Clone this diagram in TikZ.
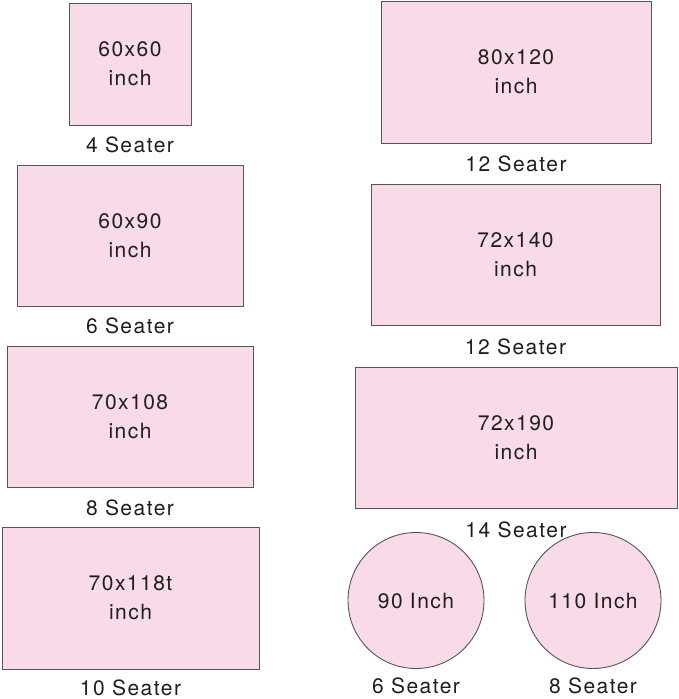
\documentclass[tikz,border=0pt]{standalone}
\usepackage{fontspec}
\setmainfont[LetterSpace=7]{TeX Gyre Heros}
\usetikzlibrary{calc}
\definecolor{tablefill}{HTML}{F9DAE8}
\definecolor{tableedge}{HTML}{555555}
\definecolor{ink}{HTML}{1E1E1E}
\begin{document}
\begin{tikzpicture}[x=1pt,y=-1pt,
  tbl/.style={draw=tableedge, fill=tablefill, line width=0.9pt, inner sep=0pt,
    text=ink, align=center, font=\fontsize{21}{29}\selectfont},
  rtab/.style={tbl, rectangle},
  ctab/.style={tbl, circle, minimum size=136pt},
  lab/.style={anchor=base, text=ink, inner sep=0pt, font=\fontsize{21}{29}\selectfont}]
\useasboundingbox (0,0) rectangle (679,699);
% left column
\node[rtab, minimum width=122pt, minimum height=122pt] (r1) at (130,64) {60x60\\inch};
\node[rtab, minimum width=226pt, minimum height=141pt] (r2) at (130,235.5) {60x90\\inch};
\node[rtab, minimum width=246pt, minimum height=141pt] (r3) at (130,416.5) {70x108\\inch};
\node[rtab, minimum width=257pt, minimum height=142pt] (r4) at (130.5,598) {70x118t\\inch};
% right column
\node[rtab, minimum width=270pt, minimum height=142pt] (r5) at (516,72) {80x120\\inch};
\node[rtab, minimum width=289pt, minimum height=141pt] (r6) at (515.5,254.5) {72x140\\inch};
\node[rtab, minimum width=322pt, minimum height=141pt] (r7) at (516,437.5) {72x190\\inch};
\node[ctab] (c1) at (416,600.5) {90 Inch};
\node[ctab] (c2) at (593,600.5) {110 Inch};
% labels
\node[lab] (l1) at ($(r1.south)+(0,27)$) {4 Seater};
\node[lab] (l2) at ($(r2.south)+(0,27)$) {6 Seater};
\node[lab] (l3) at ($(r3.south)+(0,28)$) {8 Seater};
\node[lab] (l4) at ($(r4.south)+(0,26)$) {10 Seater};
\node[lab] (l5) at ($(r5.south)+(0,28)$) {12 Seater};
\node[lab] (l6) at ($(r6.south)+(0,29)$) {12 Seater};
\node[lab] (l7) at ($(r7.south)+(0,29)$) {14 Seater};
\node[lab] (l8) at ($(c1.south)+(0,25)$) {6 Seater};
\node[lab] (l9) at ($(c2.south)+(0,25)$) {8 Seater};
\end{tikzpicture}
\end{document}
